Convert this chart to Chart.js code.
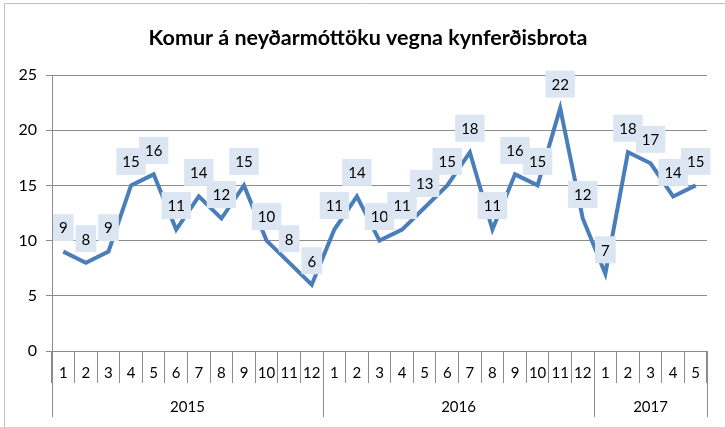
<!DOCTYPE html>
<html>
    <head>
        <meta charset="UTF-8">
        <title>Komur á neyðarmóttöku</title>
        <script src="https://cdn.jsdelivr.net/npm/chart.js@4/dist/chart.umd.min.js"></script>
        <style>
            body{
                margin: 0;
                background-color: white;
            }
            .grafica{
                position: absolute;
                left: 0px;
                top: 0px;
                width: 725px;
                height: 427px;
            }
        </style>
    </head>
    <body>
        <div class="grafica">
            <canvas id="miCanvas" width="725" height="427"></canvas>
        </div>
        <script>
            // months and counts
            const months = ["1","2","3","4","5","6","7","8","9","10","11","12",
                            "1","2","3","4","5","6","7","8","9","10","11","12",
                            "1","2","3","4","5"];
            const years = ["2015", "2016", "2017"];
            const monthsPerYear = [12, 12, 5];
            const komur = [9, 8, 9, 15, 16, 11, 14, 12, 15, 10, 8, 6,
                           11, 14, 10, 11, 13, 15, 18, 11, 16, 15, 22, 12,
                           7, 18, 17, 14, 15];
            const yTicks = [0, 5, 10, 15, 20, 25];
            const titill = "Komur á neyðarmóttöku vegna kynferðisbrota";

            const gridGray = "#8c8c8c";
            const fontName = "Lato, 'Open Sans', sans-serif";

            // frame and title
            const frame = {
                id: "frame",
                beforeDraw(chart){
                    const ctx = chart.ctx;
                    ctx.save();
                    ctx.strokeStyle = "#bfbfbf";
                    ctx.lineWidth = 1;
                    ctx.beginPath();
                    ctx.moveTo(4.5, 427);
                    ctx.lineTo(4.5, 3.5);
                    ctx.lineTo(725, 3.5);
                    ctx.stroke();
                    ctx.font = "bold 21.5px " + fontName;
                    ctx.fillStyle = "#000000";
                    ctx.textAlign = "center";
                    ctx.textBaseline = "middle";
                    ctx.fillText(titill, 368, 38);
                    ctx.restore();
                }
            };

            // value boxes above each point
            const boxLabels = {
                id: "boxLabels",
                afterDatasetsDraw(chart){
                    const ctx = chart.ctx;
                    const meta = chart.getDatasetMeta(0);
                    ctx.save();
                    ctx.font = "15px " + fontName;
                    ctx.textAlign = "center";
                    ctx.textBaseline = "middle";
                    meta.data.forEach((pt, i) => {
                        const txt = String(komur[i]);
                        const w = ctx.measureText(txt).width + 12;
                        const h = 27;
                        const cx = pt.x;
                        const cy = pt.y - 24;
                        ctx.fillStyle = "#dce6f2";
                        ctx.fillRect(cx - w / 2, cy - h / 2, w, h);
                        ctx.fillStyle = "#000000";
                        ctx.fillText(txt, cx, cy + 1);
                    });
                    ctx.restore();
                }
            };

            // year groups under the month numbers
            const yearAxis = {
                id: "yearAxis",
                afterDraw(chart){
                    const ctx = chart.ctx;
                    const xs = chart.scales.x;
                    const top = chart.chartArea.bottom;
                    const step = (xs.right - xs.left) / months.length;
                    ctx.save();
                    ctx.strokeStyle = gridGray;
                    ctx.lineWidth = 1;
                    ctx.font = "15px " + fontName;
                    ctx.fillStyle = "#000000";
                    ctx.textAlign = "center";
                    ctx.textBaseline = "middle";
                    let start = 0;
                    for(let k = 0; k <= years.length; k++){
                        const x = Math.round(xs.left + start * step) + 0.5;
                        ctx.beginPath();
                        ctx.moveTo(x, top);
                        ctx.lineTo(x, top + 66);
                        ctx.stroke();
                        if(k < years.length){
                            const mid = xs.left + (start + monthsPerYear[k] / 2) * step;
                            ctx.fillText(years[k], mid, top + 56);
                            start += monthsPerYear[k];
                        }
                    }
                    ctx.restore();
                }
            };

            const miCanvas = document.getElementById("miCanvas").getContext("2d");
            window.miCanva = new Chart(miCanvas, {
                type: "line",
                data: {
                    labels: months,
                    datasets: [{
                        label: "Komur",
                        data: komur,
                        borderColor: "#4a7ebb",
                        borderWidth: 4,
                        pointRadius: 0,
                        tension: 0,
                        fill: false
                    }]
                },
                plugins: [frame, boxLabels, yearAxis],
                options: {
                    responsive: false,
                    animation: false,
                    layout: {
                        padding: {left: 0, right: 18, top: 75, bottom: 0}
                    },
                    plugins: {
                        legend: {display: false},
                        tooltip: {enabled: false},
                        title: {display: false}
                    },
                    scales: {
                        x: {
                            offset: true,
                            grid: {
                                offset: true,
                                drawOnChartArea: false,
                                drawTicks: true,
                                tickLength: 32,
                                color: gridGray
                            },
                            border: {color: gridGray},
                            ticks: {
                                color: "#000000",
                                font: {family: fontName, size: 15},
                                padding: -19,
                                maxRotation: 0,
                                autoSkip: false
                            },
                            afterFit(scale){
                                scale.height = 76;
                            }
                        },
                        y: {
                            min: yTicks[0],
                            max: yTicks[yTicks.length - 1],
                            grid: {
                                color: gridGray,
                                tickLength: 6
                            },
                            border: {color: gridGray},
                            afterBuildTicks(scale){
                                scale.ticks = yTicks.map(v => ({value: v}));
                            },
                            ticks: {
                                color: "#000000",
                                font: {family: fontName, size: 16},
                                padding: 9
                            },
                            afterFit(scale){
                                scale.width = 52;
                            }
                        }
                    }
                }
            });
        </script>
    </body>
</html>
